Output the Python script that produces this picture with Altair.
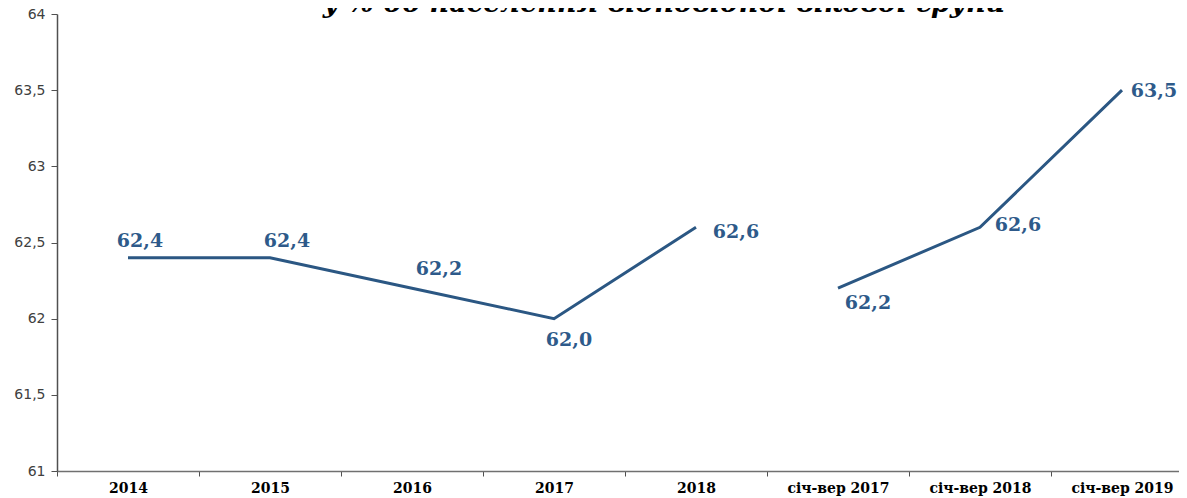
import altair as alt
import pandas as pd

CATEGORIES = ["2014", "2015", "2016", "2017", "2018",
              "січ-вер 2017", "січ-вер 2018", "січ-вер 2019"]
VALUES = [62.4, 62.4, 62.2, 62.0, 62.6, 62.2, 62.6, 63.5]
SEGMENTS = ["рік", "рік", "рік", "рік", "рік", "січ-вер", "січ-вер", "січ-вер"]
LABELS = ["62,4", "62,4", "62,2", "62,0", "62,6", "62,2", "62,6", "63,5"]
Y_TICKS = [61, 61.5, 62, 62.5, 63, 63.5, 64]
TITLE = "у % до населення відповідної вікової групи"

# label offsets (dx, dy) in pixels, one per point
LABEL_OFFSETS = [(12, -17), (17, -17), (27, -19), (15, 21),
                 (40, 5), (30, 15), (38, -2), (32, 1)]

df = pd.DataFrame({"cat": CATEGORIES, "value": VALUES,
                   "segment": SEGMENTS, "label": LABELS})

LINE_COLOR = "#2b5783"
TEXT_COLOR = "#2e5a8a"

x_enc = alt.X(
    "cat:N", sort=CATEGORIES, bandPosition=0.5,
    scale=alt.Scale(type="band", domain=CATEGORIES, range=[0, 1136],
                    paddingInner=0, paddingOuter=0),
    axis=alt.Axis(title=None, labelAngle=0, tickBand="extent", grid=False,
                  labelFont="DejaVu Serif", labelFontWeight="bold",
                  labelFontSize=14, labelColor="#000000",
                  domainColor="#707070", tickColor="#505050",
                  tickSize=5, labelPadding=5, domainWidth=1.5),
)
y_enc = alt.Y(
    "value:Q",
    scale=alt.Scale(domain=[61, 64], nice=False, zero=False),
    axis=alt.Axis(title=None, values=Y_TICKS, grid=False,
                  labelExpr="replace(toString(datum.value), '.', ',')",
                  labelFont="DejaVu Sans", labelFontSize=14,
                  labelColor="#404040", domainColor="#505050",
                  tickColor="#505050", tickSize=6, labelPadding=6,
                  domainWidth=1.5),
)

base = alt.Chart(df)

line = base.mark_line(color=LINE_COLOR, strokeWidth=3).encode(
    x=x_enc, y=y_enc, detail="segment:N"
)

layers = [line]
for cat, (dx, dy) in zip(CATEGORIES, LABEL_OFFSETS):
    layers.append(
        base.transform_filter(alt.datum.cat == cat)
        .mark_text(dx=dx, dy=dy, font="DejaVu Serif", fontWeight="bold",
                   fontSize=19, color=TEXT_COLOR, align="center",
                   baseline="middle")
        .encode(x=x_enc, y=y_enc, text="label:N")
    )

title = alt.Chart(pd.DataFrame({"t": [TITLE]})).mark_text(
    font="DejaVu Serif", fontStyle="italic", fontWeight="bold",
    fontSize=27, color="#000000", align="center", baseline="alphabetic"
).encode(text="t:N", x=alt.value(607), y=alt.value(-2))
layers.append(title)

chart = alt.layer(*layers).properties(
    width=1122, height=457,
    autosize=alt.AutoSizeParams(type="none"),
    padding={"left": 49, "top": 6, "right": 0, "bottom": 25},
    background="white",
).configure_view(stroke=None)

chart.save("out.html", embed_options={"renderer": "svg", "actions": False})
